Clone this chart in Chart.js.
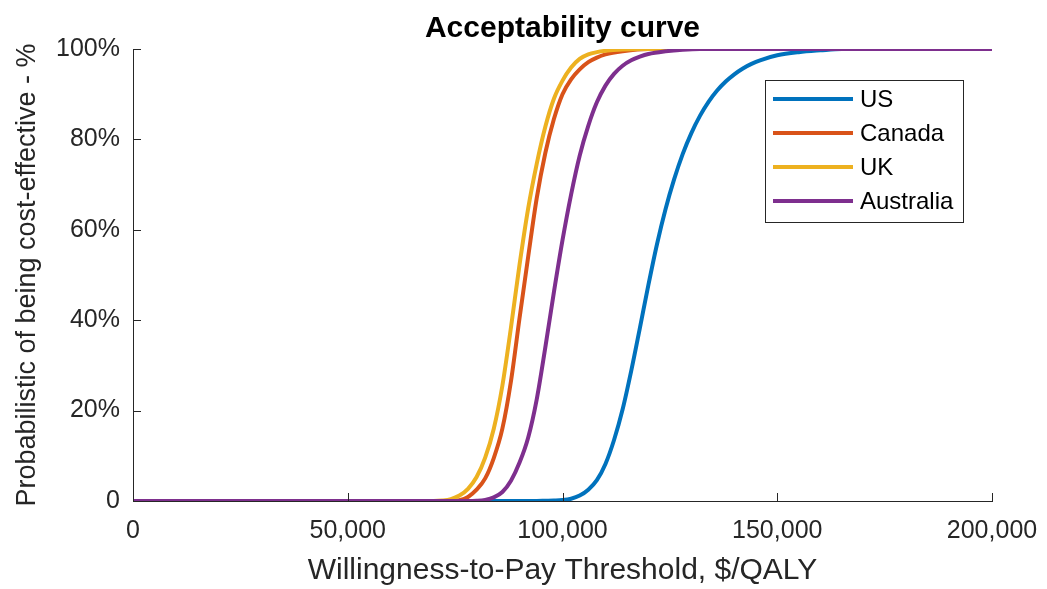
<!DOCTYPE html>
<html>
<head>
<meta charset="utf-8">
<script src="https://cdn.jsdelivr.net/npm/chart.js@4"></script>
<style>
  html, body { margin: 0; padding: 0; background: #fff; }
  #wrap { width: 1047px; height: 589px; position: relative; }
</style>
</head>
<body>
<div id="wrap"><canvas id="grafico"></canvas></div>
<script>
// willingness-to-pay threshold ($/QALY) vs probability (%)
const usX = [0, 94000, 96000, 98000, 100000, 102000, 104000, 106000, 108000, 110000, 112000, 114000, 116000, 118000, 120000, 122000, 124000, 126000, 128000, 130000, 132000, 134000, 136000, 138000, 140000, 142000, 144000, 146000, 150000, 155000, 160000, 165000, 200000];
const usY = [0, 0, 0.05, 0.1, 0.2, 0.5, 1.2, 2.5, 4.6, 8.2, 13.5, 20.3, 28.8, 38.2, 47.8, 56.8, 64.6, 71.2, 76.8, 81.4, 85.2, 88.3, 90.8, 92.8, 94.4, 95.7, 96.7, 97.5, 98.6, 99.3, 99.7, 100, 100];

const canadaX = [0, 72000, 74000, 76000, 78000, 80000, 82000, 84000, 86000, 88000, 90000, 92000, 94000, 96000, 98000, 100000, 102000, 104000, 106000, 108000, 110000, 114000, 120000, 200000];
const canadaY = [0, 0, 0.05, 0.2, 0.9, 2.5, 5, 9.5, 16, 26.5, 40.5, 54, 67, 77, 84.5, 90, 93.3, 95.5, 97.1, 98.1, 98.8, 99.5, 100, 100];

const ukX = [0, 70000, 72000, 74000, 76000, 78000, 80000, 82000, 84000, 86000, 88000, 90000, 92000, 94000, 96000, 98000, 100000, 102000, 104000, 106000, 108000, 110000, 114000, 118000, 200000];
const ukY = [0, 0, 0.1, 0.4, 1.2, 2.7, 5.3, 9.6, 16, 25.5, 38.4, 52.3, 64.7, 74.6, 82.8, 89, 93, 95.9, 97.8, 98.8, 99.3, 99.6, 99.9, 100, 100];

const ausX = [0, 78000, 80000, 82000, 84000, 86000, 88000, 90000, 92000, 94000, 96000, 98000, 100000, 102000, 104000, 106000, 108000, 110000, 112000, 114000, 116000, 118000, 120000, 124000, 128000, 132000, 200000];
const ausY = [0, 0, 0.05, 0.25, 0.8, 2, 4.5, 8.5, 14, 22.5, 34, 46.2, 57.7, 67.8, 76.4, 83, 88.2, 91.9, 94.5, 96.3, 97.5, 98.3, 98.9, 99.5, 99.85, 100, 100];

const xTicks = [0, 50000, 100000, 150000, 200000];
const yTicks = [0, 20, 40, 60, 80, 100];

const FONT = '"Liberation Sans", Arial, Helvetica, sans-serif';
const AXIS = '#262626';

function puntos(xs, ys) {
    return xs.map((x, i) => ({ x: x, y: ys[i] }));
}

// MATLAB style ticks pointing into the plot
const ticksDentro = {
    id: 'ticksDentro',
    afterDraw(chart) {
        const { ctx, chartArea, scales } = chart;
        ctx.save();
        ctx.strokeStyle = AXIS;
        ctx.lineWidth = 1;
        ctx.beginPath();
        xTicks.forEach(v => {
            const px = Math.round(scales.x.getPixelForValue(v)) + 0.5;
            ctx.moveTo(px, chartArea.bottom);
            ctx.lineTo(px, chartArea.bottom - 8);
        });
        yTicks.forEach(v => {
            const py = Math.round(scales.y.getPixelForValue(v)) + 0.5;
            ctx.moveTo(chartArea.left, py);
            ctx.lineTo(chartArea.left + 8, py);
        });
        ctx.stroke();
        ctx.restore();
    }
};

// boxed legend inside the axes, top right
const leyenda = {
    id: 'leyenda',
    afterDraw(chart) {
        const { ctx, chartArea } = chart;
        const x0 = chartArea.right - 227, y0 = chartArea.top + 31, w = 198, h = 142;
        ctx.save();
        ctx.fillStyle = '#fff';
        ctx.fillRect(x0, y0, w, h);
        ctx.strokeStyle = AXIS;
        ctx.lineWidth = 1;
        ctx.strokeRect(x0 + 0.5, y0 + 0.5, w, h);
        chart.data.datasets.forEach((ds, i) => {
            const y = y0 + 19 + i * 34;
            ctx.strokeStyle = ds.borderColor;
            ctx.lineWidth = 4;
            ctx.beginPath();
            ctx.moveTo(x0 + 8, y);
            ctx.lineTo(x0 + 88, y);
            ctx.stroke();
            ctx.fillStyle = '#000';
            ctx.font = '24px ' + FONT;
            ctx.textBaseline = 'middle';
            ctx.textAlign = 'left';
            ctx.fillText(ds.label, x0 + 95, y + 1);
        });
        ctx.restore();
    }
};

const ctx = document.getElementById('grafico').getContext('2d');

new Chart(ctx, {
    type: 'line',
    data: {
        datasets: [
            { label: 'US', data: puntos(usX, usY), borderColor: '#0072BD', order: 4 },
            { label: 'Canada', data: puntos(canadaX, canadaY), borderColor: '#D95319', order: 3 },
            { label: 'UK', data: puntos(ukX, ukY), borderColor: '#EDB120', order: 2 },
            { label: 'Australia', data: puntos(ausX, ausY), borderColor: '#7E2F8E', order: 1 }
        ]
    },
    options: {
        responsive: true,
        maintainAspectRatio: false,
        animation: false,
        layout: { padding: { left: 0, right: 55, top: 0, bottom: 0 } },
        elements: {
            line: { borderWidth: 4, cubicInterpolationMode: 'monotone', fill: false },
            point: { radius: 0, hoverRadius: 0 }
        },
        plugins: {
            legend: { display: false },
            tooltip: { enabled: false },
            title: {
                display: true,
                text: 'Acceptability curve',
                fullSize: false,
                color: '#000',
                font: { family: FONT, size: 30, weight: 'bold' },
                padding: { top: 11, bottom: 2 }
            }
        },
        scales: {
            x: {
                type: 'linear',
                min: 0,
                max: 200000,
                afterBuildTicks: s => { s.ticks = xTicks.map(v => ({ value: v })); },
                afterFit: s => { s.height = 88; s.paddingLeft = 0; s.paddingRight = 0; },
                grid: { display: true, drawOnChartArea: false, drawTicks: false },
                border: { display: true, color: AXIS, width: 1 },
                ticks: {
                    color: AXIS,
                    padding: 15,
                    maxRotation: 0,
                    font: { family: FONT, size: 25 },
                    callback: v => v.toLocaleString('en-US')
                },
                title: {
                    display: true,
                    text: 'Willingness-to-Pay Threshold, $/QALY',
                    color: AXIS,
                    font: { family: FONT, size: 30 },
                    padding: { top: 2, bottom: 0 }
                }
            },
            y: {
                min: 0,
                max: 100,
                afterBuildTicks: s => { s.ticks = yTicks.map(v => ({ value: v })); },
                afterFit: s => { s.width = 133; },
                grid: { display: true, drawOnChartArea: false, drawTicks: false },
                border: { display: true, color: AXIS, width: 1 },
                ticks: {
                    color: AXIS,
                    padding: 13,
                    font: { family: FONT, size: 25 },
                    callback: v => v === 0 ? '0' : v + '%'
                },
                title: {
                    display: true,
                    text: 'Probabilistic of being cost-effective - %',
                    color: AXIS,
                    font: { family: FONT, size: 27 },
                    padding: { top: 11, bottom: 0 }
                }
            }
        }
    },
    plugins: [ticksDentro, leyenda]
});
</script>
</body>
</html>
